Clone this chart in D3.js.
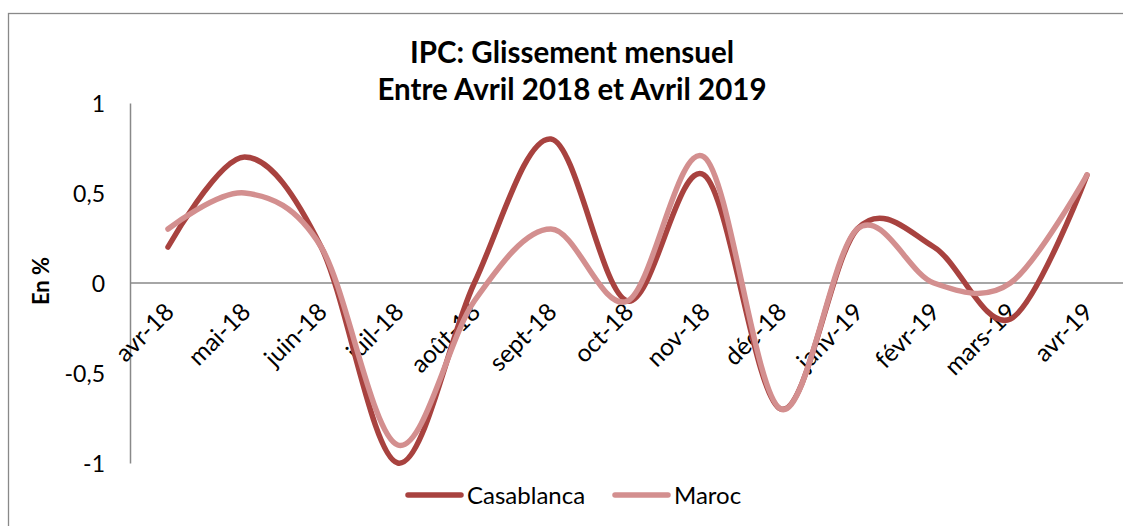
<!DOCTYPE html>
<html><head><meta charset="utf-8">
<script src="https://cdn.jsdelivr.net/npm/d3@7"></script>
<style>body{margin:0;background:#fff;overflow:hidden} svg{display:block}</style>
</head><body><svg id="c" width="1123" height="526"></svg>
<script>
const categories = ["avr-18","mai-18","juin-18","juil-18","août-18","sept-18","oct-18","nov-18","déc-18","janv-19","févr-19","mars-19","avr-19"];
const casablanca = [0.2, 0.7, 0.2, -1.0, 0.0, 0.8, -0.1, 0.6, -0.7, 0.3, 0.2, -0.2, 0.6];
const maroc      = [0.3, 0.5, 0.2, -0.9, -0.1, 0.3, -0.1, 0.7, -0.7, 0.3, 0.0, 0.0, 0.6];
const yTicks = [-1, -0.5, 0, 0.5, 1];
const seriesNames = ["Casablanca", "Maroc"];
const seriesColors = ["#A8423F", "#D38F8F"];
const titleLines = ["IPC: Glissement mensuel", "Entre Avril 2018 et Avril 2019"];
const yTitle = "En %";

const FONT = "Lato, 'Open Sans', sans-serif";
const svg = d3.select("#c");
const W = 1123, H = 526;

// chart border
svg.append("rect").attr("x", 8.5).attr("y", 13.5).attr("width", 1200).attr("height", 700)
  .attr("fill", "none").attr("stroke", "#898989").attr("stroke-width", 1.3);

const x = d3.scalePoint().domain(categories).range([168, 1087]);
const y = d3.scaleLinear().domain([-1, 1]).range([463, 103]);
const fmt = v => String(v).replace(".", ",");

// y axis
const yAxis = d3.axisLeft(y).tickValues(yTicks).tickSize(0).tickPadding(0).tickFormat(fmt);
const gy = svg.append("g").attr("transform", "translate(130,0)").call(yAxis);
gy.select(".domain").attr("stroke", "#898989").attr("stroke-width", 1.5);
gy.selectAll("text").attr("x", -25).attr("dy", "0.36em")
  .style("font-family", FONT).style("font-size", "23px").attr("fill", "#000");

// zero line (category axis)
const xAxis = d3.axisBottom(x).tickSize(0).tickFormat("");
const gx = svg.append("g").attr("transform", `translate(0,${y(0)})`).call(xAxis);
gx.select(".domain").attr("d", `M130,0H${W}`).attr("stroke", "#898989").attr("stroke-width", 1.5);

// category labels
svg.append("g").selectAll("text").data(categories).join("text")
  .attr("transform", d => `translate(${x(d) - 5},${y(0) + 18}) rotate(-45)`)
  .attr("text-anchor", "end").attr("dy", "0.72em")
  .style("font-family", FONT).style("font-size", "24.5px").attr("fill", "#000")
  .text(d => d);

// lines
const line = d3.line().x((d, i) => x(categories[i])).y(d => y(d)).curve(d3.curveCatmullRom.alpha(0));
[casablanca, maroc].forEach((s, k) => {
  svg.append("path").datum(s).attr("d", line).attr("fill", "none")
    .attr("stroke", seriesColors[k]).attr("stroke-width", 5.5)
    .attr("stroke-linecap", "round").attr("stroke-linejoin", "round");
});

// title
svg.append("g").selectAll("text").data(titleLines).join("text")
  .attr("x", 572).attr("y", (d, i) => 63 + i * 37)
  .attr("text-anchor", "middle")
  .style("font-family", FONT).style("font-size", "29.5px").style("font-weight", "bold")
  .text(d => d);

// y title
svg.append("text").attr("transform", "translate(49,281) rotate(-90)")
  .attr("text-anchor", "middle")
  .style("font-family", FONT).style("font-size", "22px").style("font-weight", "bold")
  .text(yTitle);

// legend
const legX = [408, 615];
const leg = svg.append("g").selectAll("g").data(seriesNames).join("g")
  .attr("transform", (d, i) => `translate(${legX[i]},495)`);
leg.append("line").attr("x1", 0).attr("x2", 53).attr("y1", 0).attr("y2", 0)
  .attr("stroke", (d, i) => seriesColors[i]).attr("stroke-width", 5.5).attr("stroke-linecap", "round");
leg.append("text").attr("x", 59).attr("dy", "0.36em")
  .style("font-family", FONT).style("font-size", "24px").text(d => d);
</script>
</body></html>
